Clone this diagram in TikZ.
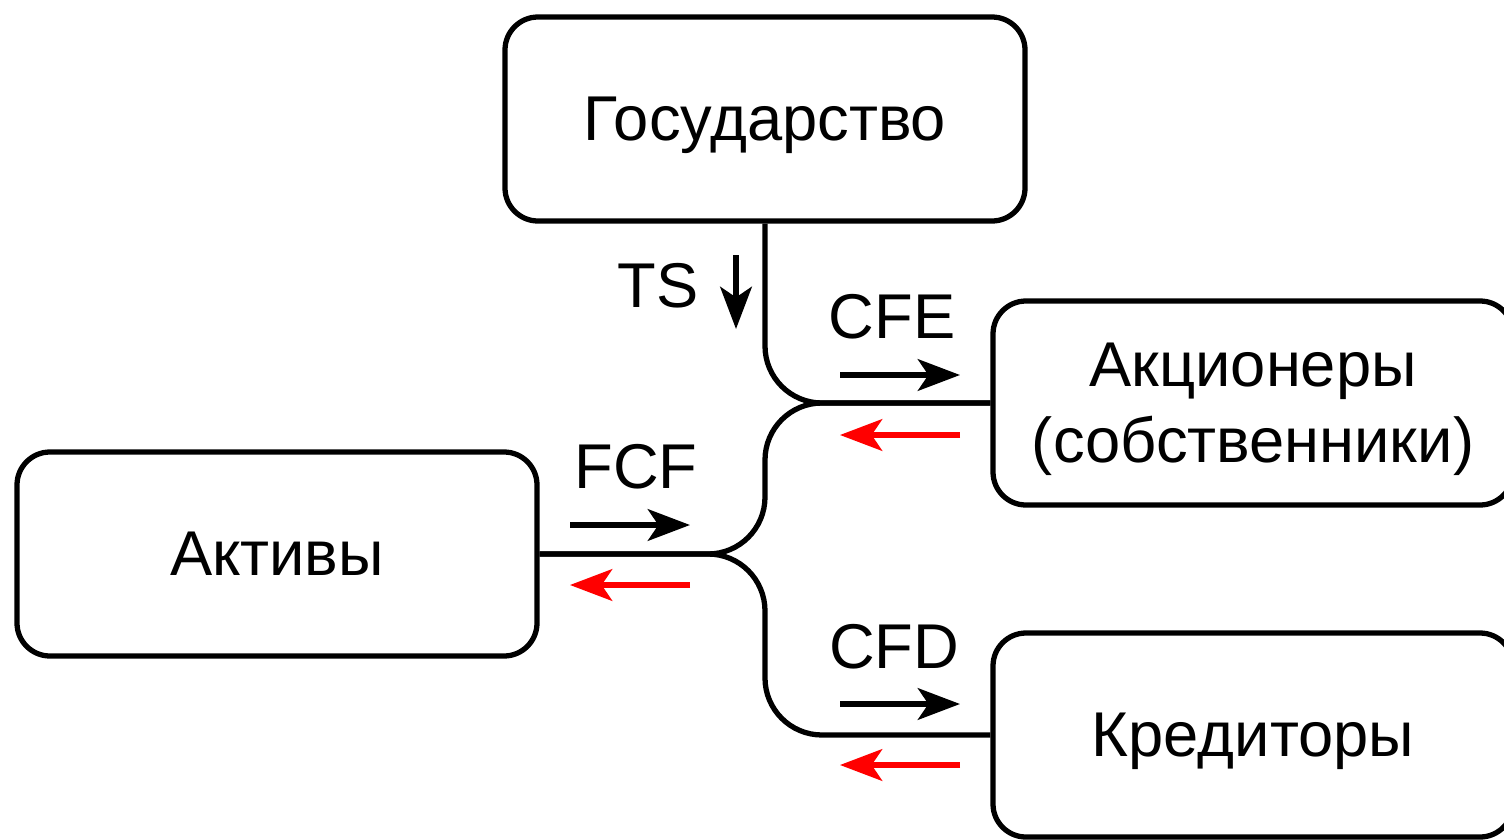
\documentclass[tikz,border=0pt]{standalone}
\usepackage{fontspec}
\setmainfont{Liberation Sans}
\usetikzlibrary{arrows.meta}
\definecolor{flowred}{rgb}{1,0,0}

\tikzset{
  block/.style={draw, line width=1.5pt, rounded corners=0.33cm,
    minimum width=5.2cm, minimum height=2.04cm, align=center, text depth=0pt},
  link/.style={line width=1.5pt, rounded corners=0.57cm},
  flow/.style={line width=1.5pt, -{Stealth[length=12pt, width=9pt, inset=3pt]}},
  backflow/.style={flow, flowred}
}

\begin{document}
\begin{tikzpicture}[font=\fontsize{18}{21.6}\selectfont]

    \useasboundingbox (0, 0) rectangle (15.04, 8.39);

    \node[block] (gov) at (7.65, 7.20) {Государство};

    \node[block] (share) at (12.53, 4.36) {Акционеры\\(собственники)};

    \node[block] (assets) at (2.77, 2.85) {Активы};

    \node[block] (cred) at (12.53, 1.04) {Кредиторы};

    % money lines
    \draw[link] (gov.south) |- (share.west);
    \draw[link] (assets.east) -| (gov.south |- share.west) -- (share.west);
    \draw[link] (assets.east) -| (gov.south |- cred.west) -- (cred.west);

    % labels
    \node (ts) at (6.58, 5.53) {TS};
    \node (cfe) at (8.92, 5.22) {CFE};
    \node (fcf) at (6.36, 3.72) {FCF};
    \node (cfd) at (8.94, 1.92) {CFD};

    \coordinate (tsA) at (7.36, 5.84);  \coordinate (tsB) at (7.36, 5.10);
    \coordinate (cfeA) at (8.40, 4.64); \coordinate (cfeB) at (9.60, 4.64);
    \coordinate (cfeC) at (9.60, 4.04); \coordinate (cfeD) at (8.40, 4.04);
    \coordinate (fcfA) at (5.70, 3.14); \coordinate (fcfB) at (6.90, 3.14);
    \coordinate (fcfC) at (6.90, 2.54); \coordinate (fcfD) at (5.70, 2.54);
    \coordinate (cfdA) at (8.40, 1.35); \coordinate (cfdB) at (9.60, 1.35);
    \coordinate (cfdC) at (9.60, 0.74); \coordinate (cfdD) at (8.40, 0.74);

    \draw[flow] (tsA) -- (tsB);
    \draw[flow] (cfeA) -- (cfeB);
    \draw[backflow] (cfeC) -- (cfeD);
    \draw[flow] (fcfA) -- (fcfB);
    \draw[backflow] (fcfC) -- (fcfD);
    \draw[flow] (cfdA) -- (cfdB);
    \draw[backflow] (cfdC) -- (cfdD);
  \end{tikzpicture}
\end{document}
